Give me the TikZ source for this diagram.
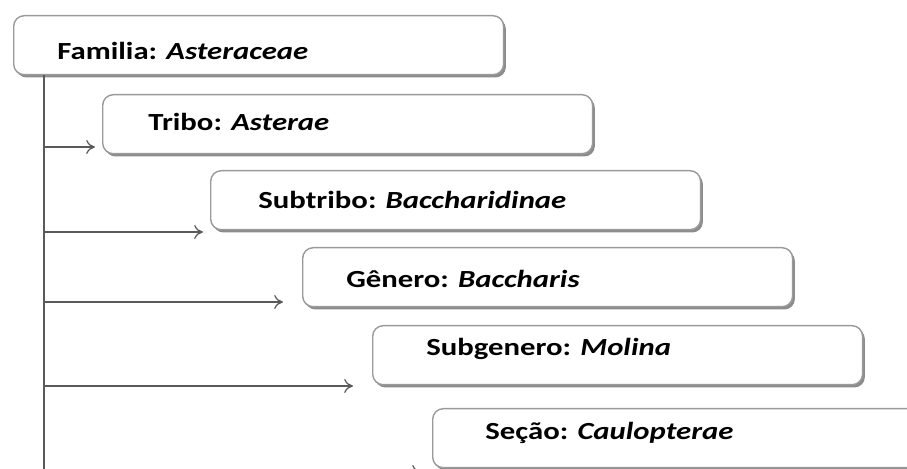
\documentclass[tikz,border=0pt]{standalone}
\usepackage{fontspec}
\setmainfont{Carlito}[FakeStretch=1.25]
\usetikzlibrary{arrows.meta, shadows}
\definecolor{txgray}{HTML}{5A5A5A}
\definecolor{txedge}{HTML}{9A9A9A}

\begin{document}
\begin{tikzpicture}[
      x=0.02cm, y=-0.02cm,
      font=\fontsize{14}{17}\selectfont\bfseries,
      box/.style={rounded corners=6pt, draw=txedge, line width=0.8pt, fill=white,
                  minimum width=9.8cm, minimum height=1.18cm, anchor=north west,
                  drop shadow={shadow xshift=1.3pt, shadow yshift=-1.6pt,
                               fill=black, opacity=0.45}},
      lbl/.style={anchor=base west, inner sep=0pt},
      ln/.style={txgray, line width=0.8pt},
      ar/.style={-{To[length=5pt,width=8pt]}, txgray, line width=0.7pt},
    ]
    \useasboundingbox (0,0) rectangle (907,469);
    \node[box] (fam)  at (13,15)  {};
    \node[box] (trib) at (102,94) {};
    \node[box] (sub)  at (210,170) {};
    \node[box] (gen)  at (302,247) {};
    \node[box] (subg) at (372,325) {};
    \node[box] (sec)  at (432,408) {};

    \node[lbl] (famt)  at (57,60)   {Familia: \textit{Asteraceae}};
    \node[lbl] (tribt) at (148,131) {Tribo: \textit{Asterae}};
    \node[lbl] (subt)  at (258,209) {Subtribo: \textit{Baccharidinae}};
    \node[lbl] (gent)  at (346,288) {Gênero: \textit{Baccharis}};
    \node[lbl] (subgt) at (426,356) {Subgenero: \textit{Molina}};
    \node[lbl] (sect)  at (485,440) {Seção: \textit{Caulopterae}};

    % trunk and arrow ends
    \coordinate (trunk) at (44,480);
    \coordinate (t1) at (95,147);
    \coordinate (t2) at (203,232);
    \coordinate (t3) at (283,302);
    \coordinate (t4) at (353,386);
    \coordinate (t5) at (421,472);

    \draw[ln] (trunk |- fam.south) -- (trunk);
    \draw[ar] (trunk |- t1) -- (t1);
    \draw[ar] (trunk |- t2) -- (t2);
    \draw[ar] (trunk |- t3) -- (t3);
    \draw[ar] (trunk |- t4) -- (t4);
    \draw[ar] (trunk |- t5) -- (t5);
  \end{tikzpicture}
\end{document}
